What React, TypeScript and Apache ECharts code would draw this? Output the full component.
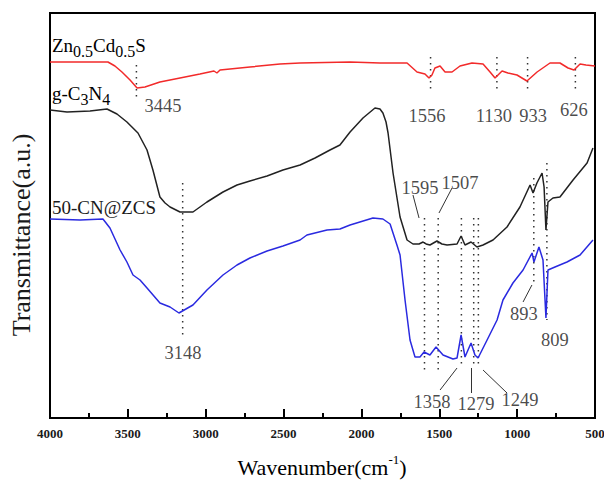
import React, { useEffect, useRef } from "react";
import * as echarts from "echarts";

// FTIR spectra: [wavenumber (cm^-1), transmittance (a.u.)]
const ZCS_SPECTRUM: [number, number][] = [
  [4000, 356], [3628, 356], [3583, 352], [3538, 346], [3486, 338], [3441, 330],
  [3390, 331], [3294, 336], [3165, 340], [3037, 344], [2947, 347], [2928, 345],
  [2908, 348], [2716, 351], [2523, 354], [2394, 355], [2073, 356], [1881, 355],
  [1707, 355], [1643, 346], [1592, 344], [1566, 340], [1547, 343], [1528, 350],
  [1495, 352], [1463, 346], [1418, 346], [1367, 352], [1290, 355], [1219, 354],
  [1174, 346], [1142, 340], [1097, 347], [1059, 345], [1001, 343], [937, 337],
  [872, 346], [789, 355], [725, 355], [673, 350], [635, 348], [596, 354],
  [558, 353], [500, 352],
];

const GCN_SPECTRUM: [number, number][] = [
  [4000, 308], [3891, 306], [3743, 307], [3634, 309], [3570, 304], [3506, 296],
  [3435, 285], [3377, 268], [3339, 248], [3294, 221], [3261, 215], [3229, 211],
  [3165, 206], [3082, 206], [2992, 216], [2889, 226], [2799, 233], [2716, 237],
  [2606, 242], [2504, 248], [2394, 253], [2298, 260], [2202, 268], [2138, 273],
  [2073, 286], [1990, 300], [1913, 310], [1881, 309], [1862, 305], [1842, 296],
  [1829, 285], [1797, 245], [1752, 201], [1707, 178], [1669, 174], [1630, 174],
  [1604, 176], [1585, 174], [1560, 173], [1515, 177], [1483, 174], [1450, 173],
  [1386, 174], [1360, 182], [1335, 173], [1296, 176], [1258, 171], [1219, 173],
  [1155, 178], [1065, 191], [982, 211], [917, 233], [898, 225], [873, 235],
  [840, 245], [827, 231], [815, 188], [802, 216], [770, 220], [725, 221],
  [641, 238], [551, 255], [513, 270],
];

const CNZCS_SPECTRUM: [number, number][] = [
  [4000, 199], [3807, 198], [3660, 199], [3615, 190], [3550, 168], [3506, 156],
  [3467, 143], [3422, 138], [3377, 130], [3294, 115], [3229, 111], [3172, 105],
  [3127, 109], [3082, 113], [2992, 128], [2889, 143], [2799, 153], [2716, 160],
  [2606, 167], [2504, 172], [2394, 178], [2350, 183], [2221, 188], [2138, 189],
  [2073, 193], [1926, 200], [1862, 199], [1816, 194], [1772, 173], [1752, 163],
  [1720, 118], [1688, 78], [1656, 61], [1624, 61], [1598, 66], [1560, 63],
  [1521, 71], [1476, 63], [1412, 59], [1386, 60], [1360, 83], [1335, 61],
  [1296, 75], [1271, 63], [1251, 60], [1193, 78], [1129, 98], [1091, 118],
  [1027, 135], [962, 148], [904, 165], [892, 156], [860, 171], [834, 158],
  [815, 100], [802, 148], [757, 151], [680, 156], [596, 163], [513, 178],
];

const SERIES_NAMES = ["Zn0.5Cd0.5S", "g-C3N4", "50-CN@ZCS"];
const SERIES_COLORS = ["#f22a2a", "#222222", "#2a2ae0"];

// dotted guide lines: [wavenumber, fromT, toT]
const GUIDE_LINES: [number, number, number][] = [
  [3445, 353, 318], [1556, 361, 326], [1130, 361, 326], [933, 361, 326],
  [626, 361, 326], [3148, 235, 83], [1595, 200, 48], [1507, 200, 48],
  [1358, 200, 50], [1279, 200, 50], [1249, 200, 50], [893, 240, 135],
  [809, 255, 98],
];

// peak labels: [wavenumber position, T position, text]
const PEAK_LABELS: [number, number, string][] = [
  [3274, 312, "3445"], [1579, 302, "1556"], [1149, 302, "1130"], [898, 302, "933"],
  [635, 308, "626"], [3146, 65, "3148"], [1624, 230, "1595"], [1367, 235, "1507"],
  [956, 104, "893"], [757, 78, "809"], [1547, 16, "1358"], [1264, 14, "1279"],
  [982, 18, "1249"],
];

// arrows: [fromWn, fromT, toWn, toT]
const ARROWS: [number, number, number, number][] = [
  [1669, 223, 1630, 200], [1418, 230, 1502, 205], [1495, 28, 1386, 50],
  [1296, 25, 1296, 50], [1065, 25, 1219, 48], [962, 116, 905, 133],
];

const SERIF = "Liberation Serif, Times New Roman, serif";

export default function App() {
  const ref = useRef<HTMLDivElement>(null);

  useEffect(() => {
    if (!ref.current) return;
    const chart = echarts.init(ref.current, undefined, { renderer: "svg" });

    const spectra = [ZCS_SPECTRUM, GCN_SPECTRUM, CNZCS_SPECTRUM].map((d, i) => ({
      type: "line",
      name: SERIES_NAMES[i],
      data: d,
      showSymbol: false,
      symbol: "none",
      smooth: false,
      lineStyle: { color: SERIES_COLORS[i], width: 1.5 },
      z: 3,
    }));

    const guides = GUIDE_LINES.map(([wn, a, b]) => ({
      type: "line",
      data: [[wn, a], [wn, b]],
      symbol: "none",
      silent: true,
      lineStyle: { color: "#333", width: 1.5, type: [1.5, 4.5] },
      z: 2,
    }));

    const labelSeries = {
      type: "scatter",
      data: PEAK_LABELS.map(([wn, t, s]) => [wn, t, s]),
      symbolSize: 0,
      silent: true,
      label: {
        show: true,
        position: "inside",
        formatter: (p: any) => p.value[2],
        color: "#1a1a1a",
        fontSize: 18.5,
        fontFamily: SERIF,
      },
      markLine: {
        silent: true,
        symbol: ["none", "arrow"],
        symbolSize: [0, 7],
        label: { show: false },
        lineStyle: { color: "#333", width: 1, type: "solid" },
        data: ARROWS.map(([x1, y1, x2, y2]) => [
          { coord: [x1, y1] },
          { coord: [x2, y2] },
        ]),
      },
      z: 4,
    };

    const rich = {
      m: { fontSize: 19, fontFamily: SERIF, color: "#1a1a1a", lineHeight: 28 },
      s: { fontSize: 16, fontFamily: SERIF, color: "#1a1a1a", lineHeight: 16, verticalAlign: "bottom" },
    };

    chart.setOption({
      animation: false,
      backgroundColor: "#ffffff",
      grid: {
        left: 50,
        right: 9,
        top: 13,
        bottom: 62,
        show: true,
        borderColor: "#000",
        borderWidth: 2,
        outerBoundsMode: "none",
      },
      xAxis: {
        type: "value",
        inverse: true,
        min: 500,
        max: 4000,
        interval: 500,
        splitLine: { show: false },
        axisLine: { show: true, lineStyle: { color: "#000", width: 2 } },
        axisTick: { show: true, inside: true, length: 9, lineStyle: { color: "#000", width: 2 } },
        minorTick: { show: true, splitNumber: 2, length: 5, lineStyle: { color: "#000", width: 2 } },
        axisLabel: {
          show: true,
          showMinLabel: true,
          showMaxLabel: true,
          margin: 9,
          color: "#1a1a1a",
          fontSize: 13,
          fontWeight: "bold",
          fontFamily: SERIF,
          formatter: (v: number) => String(v),
        },
      },
      yAxis: {
        type: "value",
        min: 0,
        max: 405,
        splitLine: { show: false },
        axisLine: { show: true, lineStyle: { color: "#000", width: 2 } },
        axisTick: { show: false },
        axisLabel: { show: false },
      },
      series: [...guides, ...spectra, labelSeries],
      graphic: [
        {
          type: "text",
          x: 52,
          y: 45,
          style: {
            text: "{m|Zn}{s|0.5}{m|Cd}{s|0.5}{m|S}",
            rich,
            textAlign: "left",
            textVerticalAlign: "middle",
          },
        },
        {
          type: "text",
          x: 52,
          y: 93,
          style: {
            text: "{m|g-C}{s|3}{m|N}{s|4}",
            rich,
            textAlign: "left",
            textVerticalAlign: "middle",
          },
        },
        {
          type: "text",
          x: 52,
          y: 207,
          style: {
            text: SERIES_NAMES[2],
            fontSize: 19,
            fontFamily: SERIF,
            fill: "#1a1a1a",
            textAlign: "left",
            textVerticalAlign: "middle",
          },
        },
        {
          type: "text",
          x: 322,
          y: 467,
          style: {
            text: "{m|Wavenumber(cm}{u|-1}{m|)}",
            rich: {
              m: { fontSize: 22, fontFamily: SERIF, color: "#1a1a1a", lineHeight: 28 },
              u: { fontSize: 13, fontFamily: SERIF, color: "#1a1a1a", lineHeight: 13, verticalAlign: "top" },
            },
            textAlign: "center",
            textVerticalAlign: "middle",
          },
        },
        {
          type: "text",
          x: 21,
          y: 235,
          rotation: Math.PI / 2,
          style: {
            text: "Transmittance(a.u.)",
            fontSize: 26,
            fontFamily: SERIF,
            fill: "#1a1a1a",
            textAlign: "center",
            textVerticalAlign: "middle",
          },
        },
      ],
    });

    return () => chart.dispose();
  }, []);

  return (
    <div
      ref={ref}
      style={{ position: "absolute", left: 0, top: 0, width: 604, height: 480, background: "#fff" }}
    />
  );
}
